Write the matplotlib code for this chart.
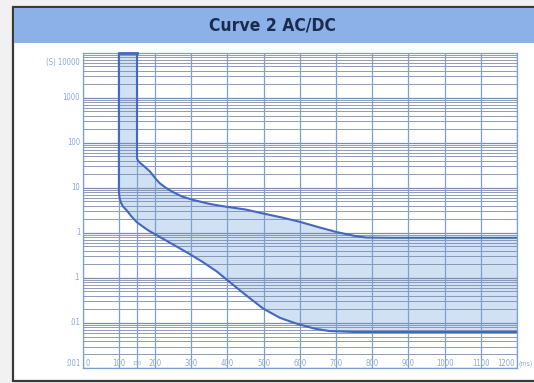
import numpy as np
import matplotlib
matplotlib.use("Agg")
import matplotlib.pyplot as plt
from matplotlib.patches import Rectangle

# tripping curve band (time in ms, trip time in s)
lower_ms = [100, 100, 102, 106, 112, 121, 135, 149, 165, 180, 213, 250, 290, 330, 370, 406, 450, 498, 545, 590, 640, 682, 750, 1200]
lower_s = [10000, 8, 5.8, 4.6, 3.8, 3.2, 2.3, 1.74, 1.4, 1.15, 0.81, 0.55, 0.36, 0.23, 0.14, 0.081, 0.042, 0.021, 0.013, 0.0097, 0.0075, 0.0066, 0.0063, 0.0063]
upper_ms = [150, 150, 153, 160, 170, 186, 200, 213, 230, 250, 275, 305, 350, 397, 450, 498, 550, 600, 650, 700, 750, 783, 850, 1200]
upper_s = [10000, 45, 40, 35, 30, 23, 16.5, 12.6, 10.0, 8.0, 6.4, 5.4, 4.4, 3.8, 3.3, 2.7, 2.2, 1.76, 1.35, 1.05, 0.86, 0.79, 0.78, 0.78]

x_ticks = [0, 100, 150, 200, 300, 400, 500, 600, 700, 800, 900, 1000, 1100, 1200]
x_labels = ["0", "100", "150", "200", "300", "400", "500", "600", "700", "800", "900", "1000", "1100", "1200"]
y_ticks = [10000, 1000, 100, 10, 1, 0.1, 0.01, 0.001]
y_labels = ["(S) 10000", "1000", "100", "10", "1", ".1", ".01", ".001"]

title = "Curve 2 AC/DC"
W, H = 534, 383
narrow = ["Liberation Sans Narrow", "DejaVu Sans"]
lab_col = "#8ea6d6"

fig = plt.figure(figsize=(W / 100, H / 100), dpi=100, facecolor="#f1f1f1")

# background layer in pixel coords: frame + title band
bg = fig.add_axes([0, 0, 1, 1], zorder=0)
bg.set_xlim(0, W)
bg.set_ylim(H, 0)
bg.axis("off")
bg.add_patch(Rectangle((12.7, 7), 540, 374, facecolor="white", edgecolor="#3a3a3a", lw=1.6))
bg.add_patch(Rectangle((13.5, 8), 540, 35, facecolor="#8cb1e8", edgecolor="none"))
bg.text(272, 25.5, title, ha="center", va="center", fontsize=12.5, fontweight="bold",
        fontstretch="condensed", color="#1b2b4d", family=narrow)

# chart
x0, x1, y0, y1 = 82.7, 517, 52.7, 368
ax = fig.add_axes([x0 / W, 1 - y1 / H, (x1 - x0) / W, (y1 - y0) / H], zorder=1)
ax.set_facecolor("white")
ax.set_yscale("log")
ax.set_xlim(0, 1200)
ax.set_ylim(0.001, 10000)

# log grid
for d in range(-3, 4):
    for k in range(1, 10):
        ax.axhline(k * 10.0 ** d, color="#7d8bb0", lw=0.9 if k == 1 else 0.6, zorder=2)
for xv in x_ticks:
    ax.axvline(xv, color="#7d9fd0", lw=0.9, zorder=2)

# band between curves
ax.fill(np.concatenate([lower_ms, upper_ms[::-1]]), np.concatenate([lower_s, upper_s[::-1]]),
        color="#c9dcf3", alpha=0.85, lw=0, zorder=1)
ax.plot(lower_ms, lower_s, color="#4468bd", lw=1.5, zorder=3)
ax.plot(upper_ms, upper_s, color="#4468bd", lw=1.5, zorder=3)
ax.plot([100, 150], [10000, 10000], color="#4468bd", lw=2, zorder=3, clip_on=False)

ax.set_xticks([])
ax.set_yticks([])
ax.minorticks_off()
for s in ax.spines.values():
    s.set_color("#7d9fd0")
    s.set_linewidth(0.9)

# tick labels drawn as text
xt = ax.get_xaxis_transform()
for xv, lab in zip(x_ticks, x_labels):
    ha = "center"
    xx = xv
    if xv == 0:
        ha, xx = "left", 8
    elif xv == 1200:
        ha, xx = "right", 1195
    fs = 4 if xv == 150 else 5.5
    ax.text(xx, 0.013, lab, transform=xt, ha=ha, va="center", fontsize=fs, color=lab_col,
            family=narrow, fontstretch="condensed")
ax.text(1.004, 0.013, "(ms)", transform=ax.transAxes, ha="left", va="center", fontsize=5, color=lab_col,
        family=narrow, fontstretch="condensed", clip_on=False)

yt = ax.get_yaxis_transform()
for yv, lab in zip(y_ticks, y_labels):
    yy = yv
    if yv == 10000:
        yy = 6000
    elif yv == 0.001:
        yy = 0.00125
    ax.text(-0.006, yy, lab, transform=yt, ha="right", va="center", fontsize=5.5, color=lab_col,
            family=narrow, fontstretch="condensed")

fig.savefig("out.png", dpi=100, facecolor=fig.get_facecolor())
